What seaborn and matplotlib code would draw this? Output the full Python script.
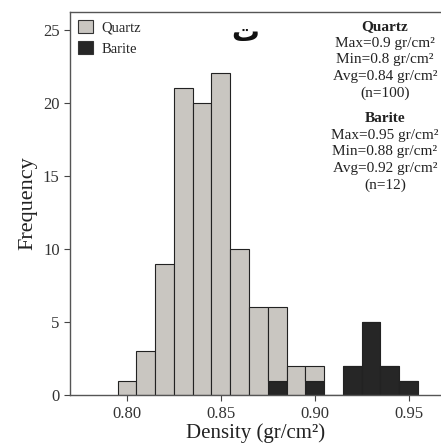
import numpy as np
import pandas as pd
import matplotlib
matplotlib.use("Agg")
import matplotlib.pyplot as plt
import seaborn as sns
from matplotlib.patches import Patch

# Bin centers and counts
quartz_centers = [0.80, 0.81, 0.82, 0.83, 0.84, 0.85, 0.86, 0.87, 0.88, 0.89, 0.90]
quartz_counts = [1, 3, 9, 21, 20, 22, 10, 6, 5, 2, 1]
barite_centers = [0.88, 0.90, 0.92, 0.93, 0.94, 0.95]
barite_counts = [1, 1, 2, 5, 2, 1]

minerals = ["Quartz", "Barite"]
colors = {"Quartz": "#c9c6c1", "Barite": "#262626"}
xticks = [0.80, 0.85, 0.90, 0.95]
yticks = [0, 5, 10, 15, 20, 25]

quartz_stats = ["Max=0.9 gr/cm\u00b2", "Min=0.8 gr/cm\u00b2", "Avg=0.84 gr/cm\u00b2", "(n=100)"]
barite_stats = ["Max=0.95 gr/cm\u00b2", "Min=0.88 gr/cm\u00b2", "Avg=0.92 gr/cm\u00b2", "(n=12)"]

rows = []
for c, n in zip(quartz_centers, quartz_counts):
    rows += [{"Density": c, "Mineral": "Quartz"}] * n
for c, n in zip(barite_centers, barite_counts):
    rows += [{"Density": c, "Mineral": "Barite"}] * n
df = pd.DataFrame(rows)

sns.set_style("white")
plt.rcParams["font.family"] = ["Liberation Serif", "DejaVu Sans"]

fig = plt.figure(figsize=(4.41, 4.43), dpi=100)
ax = fig.add_axes([0.159, 0.108, 0.84, 0.865])

bins = np.linspace(0.795, 0.955, 17)
sns.histplot(data=df, x="Density", hue="Mineral", hue_order=minerals,
             palette=colors, bins=bins, multiple="stack", alpha=1,
             edgecolor="#222222", linewidth=0.8, legend=False, ax=ax)

ax.set_xlim(0.7697, 0.967)
ax.set_ylim(0, 26.2)
ax.set_xticks(xticks)
ax.set_xticklabels([f"{t:.2f}" for t in xticks])
ax.set_yticks(yticks)
ax.tick_params(axis="both", labelsize=12, colors="#444444", length=4, width=0.8,
               direction="out", bottom=True, left=True)
for lab in ax.get_xticklabels() + ax.get_yticklabels():
    lab.set_color("#333333")
for s in ["left", "bottom", "top"]:
    ax.spines[s].set_color("#555555")
    ax.spines[s].set_linewidth(1.0)
ax.spines["right"].set_visible(False)

ax.set_xlabel("Density (gr/cm\u00b2)", fontsize=15, color="#222222", labelpad=1)
ax.set_ylabel("Frequency", fontsize=16, color="#222222", labelpad=4)

handles = [Patch(facecolor=colors[m], edgecolor="#333333", linewidth=0.8, label=m) for m in minerals]
ax.legend(handles=handles, loc="upper left", frameon=False, fontsize=10.5,
          handlelength=1.0, handleheight=1.0, handletextpad=0.6,
          borderaxespad=0.25, borderpad=0.3, labelspacing=0.45)

ax.text(0.472, 0.982, "\u062a", transform=ax.transAxes, ha="center", va="top",
        fontsize=20, fontweight="bold", family=["DejaVu Sans"], color="#111111")

def px(y):
    return 1 - y / 443.0

xc = 385 / 441.0
fs = 11
step = 16.6
fig.text(xc, px(27), "Quartz", ha="center", va="center", fontsize=fs, fontweight="bold", color="#222222")
for i, s in enumerate(quartz_stats):
    fig.text(xc, px(43 + step * i), s, ha="center", va="center", fontsize=fs, color="#222222")
fig.text(xc, px(118), "Barite", ha="center", va="center", fontsize=fs, fontweight="bold", color="#222222")
for i, s in enumerate(barite_stats):
    fig.text(xc, px(135 + step * i), s, ha="center", va="center", fontsize=fs, color="#222222")

fig.savefig("out.png", dpi=100)
